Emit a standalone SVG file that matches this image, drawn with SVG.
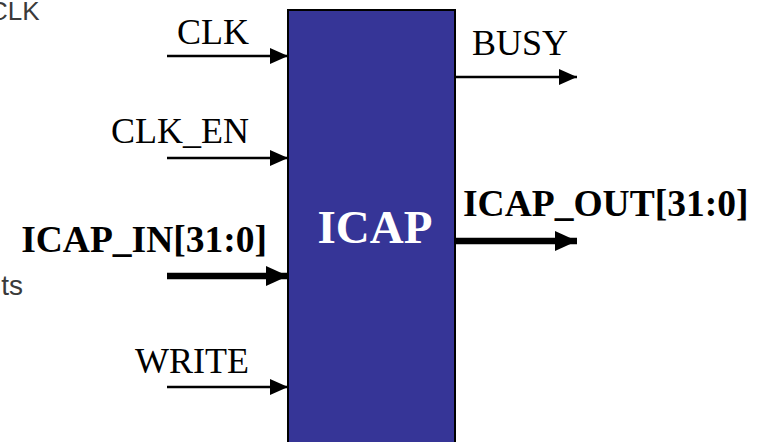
<svg xmlns="http://www.w3.org/2000/svg" width="765" height="442" viewBox="0 0 765 442">
<style>
.lbl{font-family:"Liberation Serif","Times New Roman",serif;font-size:36px;fill:#000}
.b{font-weight:bold;font-size:37.5px}
.bg{font-family:"Liberation Sans",Arial,sans-serif;fill:#3a3a3a}
.thin{stroke:#000;stroke-width:2.5;fill:none}
.thick{stroke:#000;stroke-width:6.5;fill:none}
</style>
<defs>
<marker id="ah" markerUnits="userSpaceOnUse" markerWidth="18" markerHeight="16" refX="18" refY="8" orient="auto">
<path d="M0,0 L18,8 L0,16 Z" fill="#000"/>
</marker>
<marker id="ahb" markerUnits="userSpaceOnUse" markerWidth="22" markerHeight="20" refX="22" refY="10" orient="auto">
<path d="M0,0 L22,10 L0,20 Z" fill="#000"/>
</marker>
</defs>
<rect width="765" height="442" fill="#fff"/>
<text class="bg" x="-11" y="20" font-size="26">CLK</text>
<text class="bg" x="-5" y="295" font-size="28">its</text>
<g id="icap">
<rect x="288" y="10" width="167" height="440" fill="#363597" stroke="#000" stroke-width="2"/>
<text x="375" y="243" text-anchor="middle" font-family="Liberation Serif,serif" font-weight="bold" font-size="47" fill="#fff">ICAP</text>
</g>
<g id="labels">
<text class="lbl" x="249" y="44" text-anchor="end">CLK</text>
<text class="lbl" x="249" y="143" text-anchor="end">CLK_EN</text>
<text class="lbl b" x="267" y="252" text-anchor="end">ICAP_IN[31:0]</text>
<text class="lbl" x="249" y="373" text-anchor="end">WRITE</text>
<text class="lbl" x="472" y="55">BUSY</text>
<text class="lbl b" x="463" y="216">ICAP_OUT[31:0]</text>
</g>
<g id="connectors">
<line class="thin" x1="167" y1="56" x2="288" y2="56" marker-end="url(#ah)"/>
<line class="thin" x1="167" y1="158" x2="288" y2="158" marker-end="url(#ah)"/>
<line class="thick" x1="167" y1="276" x2="288" y2="276" marker-end="url(#ahb)"/>
<line class="thin" x1="167" y1="387" x2="288" y2="387" marker-end="url(#ah)"/>
<line class="thin" x1="455" y1="77" x2="577" y2="77" marker-end="url(#ah)"/>
<line class="thick" x1="455" y1="241" x2="577" y2="241" marker-end="url(#ahb)"/>
</g>
</svg>
